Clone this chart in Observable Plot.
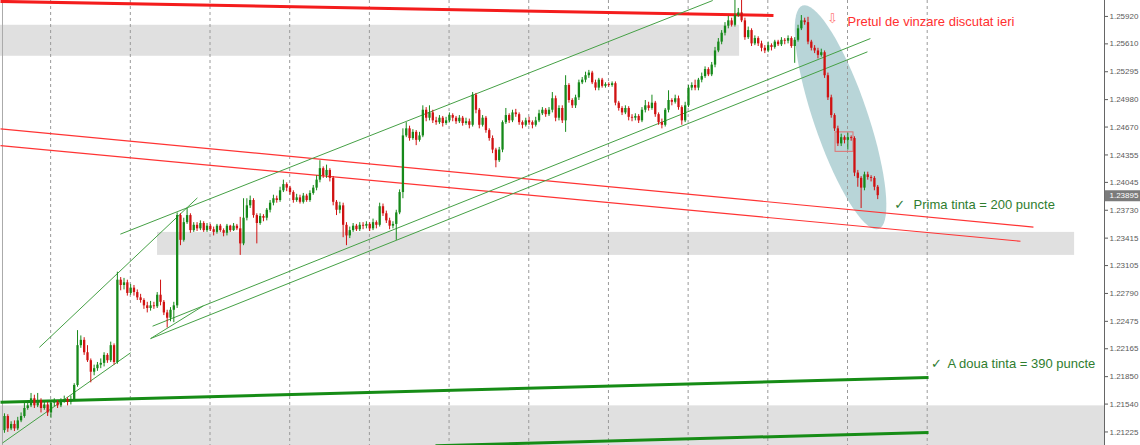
<!DOCTYPE html>
<html><head><meta charset="utf-8">
<script src="https://cdn.jsdelivr.net/npm/d3@7"></script>
<script src="https://cdn.jsdelivr.net/npm/@observablehq/plot@0.6"></script>
<style>body{margin:0;background:#fff;overflow:hidden}</style>
</head><body><div id="chart"></div>
<script>
// ---- data (hourly candles, open = previous close) ----
const firstOpen = 1.2124;
const close = [
1.2140,1.2126,1.2131,1.2126,1.2135,1.2140,1.2149,1.2152,1.2160,1.2152,1.2158,1.2149,
1.2153,1.2144,1.2155,1.2156,1.2152,1.2157,1.2159,1.2156,1.2159,1.2175,1.2220,1.2226,
1.2212,1.2203,1.2190,1.2194,1.2198,1.2200,1.2209,1.2203,1.2220,1.2201,1.2294,1.2288,
1.2291,1.2279,1.2285,1.2280,1.2274,1.2271,1.2265,1.2262,1.2265,1.2264,1.2277,1.2269,
1.2257,1.2251,1.2260,1.2265,1.2367,1.2339,1.2359,1.2367,1.2350,1.2356,1.2352,1.2358,
1.2350,1.2355,1.2351,1.2348,1.2355,1.2350,1.2347,1.2355,1.2350,1.2355,1.2352,1.2335,
1.2364,1.2378,1.2384,1.2367,1.2358,1.2366,1.2364,1.2373,1.2381,1.2386,1.2384,1.2395,
1.2402,1.2398,1.2393,1.2384,1.2387,1.2382,1.2389,1.2384,1.2392,1.2398,1.2407,1.2420,
1.2412,1.2418,1.2409,1.2382,1.2373,1.2378,1.2356,1.2344,1.2350,1.2355,1.2351,1.2356,
1.2355,1.2357,1.2352,1.2359,1.2356,1.2377,1.2369,1.2361,1.2355,1.2357,1.2370,1.2393,
1.2457,1.2465,1.2454,1.2461,1.2452,1.2457,1.2486,1.2477,1.2483,1.2474,1.2472,1.2477,
1.2471,1.2474,1.2480,1.2477,1.2473,1.2477,1.2471,1.2473,1.2469,1.2503,1.2486,1.2469,
1.2477,1.2463,1.2454,1.2441,1.2429,1.2441,1.2472,1.2480,1.2474,1.2483,1.2481,1.2472,
1.2469,1.2474,1.2472,1.2469,1.2474,1.2482,1.2486,1.2481,1.2486,1.2499,1.2477,1.2488,
1.2474,1.2514,1.2497,1.2491,1.2500,1.2517,1.2520,1.2525,1.2528,1.2517,1.2511,1.2520,
1.2513,1.2515,1.2514,1.2516,1.2494,1.2488,1.2483,1.2488,1.2478,1.2477,1.2479,1.2474,
1.2486,1.2491,1.2488,1.2494,1.2481,1.2472,1.2469,1.2486,1.2497,1.2495,1.2499,1.2489,
1.2474,1.2491,1.2511,1.2514,1.2511,1.2520,1.2524,1.2532,1.2526,1.2537,1.2553,1.2563,
1.2573,1.2581,1.2587,1.2582,1.2593,1.2596,1.2587,1.2568,1.2576,1.2561,1.2567,1.2561,
1.2556,1.2553,1.2559,1.2557,1.2563,1.2560,1.2565,1.2564,1.2567,1.2558,1.2565,1.2578,
1.2587,1.2585,1.2563,1.2556,1.2553,1.2548,1.2551,1.2525,1.2500,1.2480,1.2465,1.2448,
1.2455,1.2452,1.2455,1.2454,1.2415,1.2409,1.2398,1.2413,1.2410,1.2409,1.2399,1.23895];
const high = [
1.2143,1.2142,1.2134,1.2135,1.2139,1.2144,1.2155,1.2157,1.2166,1.2164,1.2166,1.2160,
1.2157,1.2156,1.2158,1.2160,1.2158,1.2160,1.2163,1.2161,1.2163,1.2177,1.2237,1.2231,
1.2229,1.2220,1.2205,1.2198,1.2201,1.2205,1.2212,1.2211,1.2224,1.2222,1.2303,1.2297,
1.2296,1.2294,1.2289,1.2288,1.2283,1.2278,1.2273,1.2269,1.2270,1.2269,1.2280,1.2294,
1.2271,1.2260,1.2263,1.2269,1.2370,1.2369,1.2364,1.2375,1.2369,1.2359,1.2359,1.2361,
1.2360,1.2358,1.2357,1.2354,1.2357,1.2357,1.2352,1.2357,1.2356,1.2358,1.2357,1.2365,
1.2386,1.2386,1.2389,1.2386,1.2369,1.2369,1.2368,1.2375,1.2384,1.2390,1.2389,1.2399,
1.2407,1.2404,1.2400,1.2395,1.2391,1.2390,1.2392,1.2391,1.2395,1.2401,1.2412,1.2429,
1.2422,1.2424,1.2420,1.2411,1.2384,1.2382,1.2381,1.2359,1.2354,1.2358,1.2357,1.2359,
1.2359,1.2360,1.2359,1.2363,1.2361,1.2381,1.2380,1.2372,1.2364,1.2360,1.2373,1.2396,
1.2465,1.2472,1.2468,1.2464,1.2463,1.2461,1.2491,1.2489,1.2491,1.2486,1.2478,1.2480,
1.2479,1.2478,1.2483,1.2482,1.2479,1.2480,1.2479,1.2477,1.2476,1.2506,1.2505,1.2488,
1.2480,1.2479,1.2465,1.2457,1.2443,1.2444,1.2474,1.2488,1.2482,1.2486,1.2487,1.2483,
1.2474,1.2477,1.2478,1.2474,1.2478,1.2486,1.2489,1.2488,1.2489,1.2506,1.2502,1.2491,
1.2491,1.2525,1.2516,1.2499,1.2503,1.2520,1.2523,1.2529,1.2531,1.2530,1.2520,1.2522,
1.2522,1.2517,1.2517,1.2518,1.2518,1.2496,1.2490,1.2491,1.2490,1.2481,1.2482,1.2481,
1.2489,1.2497,1.2495,1.2503,1.2496,1.2483,1.2476,1.2488,1.2508,1.2499,1.2503,1.2502,
1.2491,1.2495,1.2514,1.2517,1.2520,1.2522,1.2528,1.2535,1.2534,1.2540,1.2557,1.2567,
1.2576,1.2585,1.2592,1.2590,1.2610,1.2601,1.2610,1.2590,1.2580,1.2578,1.2570,1.2569,
1.2564,1.2559,1.2563,1.2561,1.2565,1.2565,1.2568,1.2567,1.2570,1.2569,1.2568,1.2582,
1.2593,1.2590,1.2591,1.2565,1.2559,1.2556,1.2555,1.2553,1.2528,1.2503,1.2482,1.2468,
1.2459,1.2457,1.2460,1.2457,1.2456,1.2418,1.2411,1.2416,1.2416,1.2412,1.2411,1.2401];
const low = [
1.2121,1.2122,1.2124,1.2123,1.2124,1.2133,1.2138,1.2147,1.2150,1.2149,1.2150,1.2144,
1.2147,1.2140,1.2138,1.2151,1.2149,1.2150,1.2155,1.2152,1.2153,1.2157,1.2173,1.2217,
1.2209,1.2201,1.2178,1.2186,1.2191,1.2194,1.2196,1.2200,1.2201,1.2198,1.2199,1.2282,
1.2283,1.2276,1.2277,1.2276,1.2271,1.2268,1.2261,1.2257,1.2259,1.2261,1.2262,1.2265,
1.2254,1.2240,1.2247,1.2246,1.2262,1.2333,1.2337,1.2357,1.2347,1.2348,1.2349,1.2350,
1.2348,1.2348,1.2349,1.2344,1.2346,1.2348,1.2343,1.2344,1.2348,1.2349,1.2350,1.2322,
1.2333,1.2361,1.2375,1.2364,1.2335,1.2356,1.2360,1.2361,1.2370,1.2378,1.2381,1.2382,
1.2393,1.2394,1.2390,1.2381,1.2382,1.2380,1.2380,1.2382,1.2382,1.2390,1.2395,1.2404,
1.2409,1.2409,1.2405,1.2378,1.2367,1.2369,1.2342,1.2333,1.2341,1.2348,1.2349,1.2349,
1.2351,1.2352,1.2349,1.2350,1.2352,1.2354,1.2366,1.2358,1.2351,1.2352,1.2339,1.2368,
1.2386,1.2455,1.2451,1.2452,1.2446,1.2450,1.2455,1.2473,1.2474,1.2471,1.2469,1.2470,
1.2467,1.2469,1.2472,1.2473,1.2470,1.2471,1.2468,1.2469,1.2465,1.2467,1.2482,1.2465,
1.2467,1.2460,1.2451,1.2437,1.2421,1.2427,1.2438,1.2470,1.2471,1.2472,1.2478,1.2469,
1.2465,1.2467,1.2469,1.2465,1.2467,1.2472,1.2480,1.2478,1.2479,1.2483,1.2473,1.2474,
1.2471,1.2461,1.2494,1.2488,1.2488,1.2497,1.2515,1.2517,1.2522,1.2515,1.2508,1.2508,
1.2511,1.2511,1.2512,1.2512,1.2491,1.2485,1.2480,1.2481,1.2474,1.2473,1.2474,1.2471,
1.2472,1.2483,1.2485,1.2486,1.2478,1.2469,1.2465,1.2467,1.2483,1.2491,1.2493,1.2486,
1.2469,1.2472,1.2489,1.2508,1.2508,1.2508,1.2517,1.2522,1.2524,1.2524,1.2534,1.2551,
1.2560,1.2570,1.2578,1.2580,1.2580,1.2591,1.2585,1.2565,1.2566,1.2558,1.2559,1.2558,
1.2552,1.2550,1.2551,1.2553,1.2555,1.2558,1.2558,1.2560,1.2561,1.2556,1.2539,1.2563,
1.2576,1.2582,1.2560,1.2553,1.2550,1.2544,1.2546,1.2522,1.2497,1.2477,1.2462,1.2445,
1.2445,1.2448,1.2441,1.2451,1.2411,1.2399,1.2375,1.2395,1.2407,1.2405,1.2395,1.2385];

const daySeparators = [13.9, 37.9, 61.9, 85.9, 109.9, 133.9, 157.9, 181.9, 205.9, 229.9, 253.9, 277.9];
const yTicks = [1.25920,1.25610,1.25295,1.24980,1.24670,1.24355,1.24045,1.23730,1.23415,1.23105,1.22790,1.22475,1.22165,1.21850,1.21540,1.21225];
const lastPrice = 1.23895;

// drawn objects (bar index, price)
const zones = [
  {i1:-1.2, i2:221.4, p1:1.2582, p2:1.2547},
  {i1:46.1, i2:322.3, p1:1.2348, p2:1.2322},
  {i1:-1.2, i2:331.3, p1:1.2152, p2:1.21072}
];
const trendLines = [
  {i1:-1.2, p1:1.2609, i2:231.6, p2:1.2593, kind:"redThick"},
  {i1:-1.2, p1:1.2465, i2:309.9, p2:1.2354, kind:"red"},
  {i1:-1.2, p1:1.2446, i2:306.0, p2:1.2338, kind:"red"},
  {i1:34.9, p1:1.2346, i2:213.3, p2:1.2610, kind:"green"},
  {i1:10.5, p1:1.2218, i2:58.1, p2:1.2387, kind:"green"},
  {i1:44.6, p1:1.2242, i2:260.8, p2:1.2567, kind:"green"},
  {i1:44.0, p1:1.2228, i2:259.9, p2:1.2552, kind:"green"},
  {i1:44.0, p1:1.2228, i2:59.9, p2:1.2265, kind:"green"},
  {i1:-0.6, p1:1.2110, i2:38.0, p2:1.2212, kind:"green"},
  {i1:-1.2, p1:1.2156, i2:278.3, p2:1.2184, kind:"greenThick"},
  {i1:129.8, p1:1.2107, i2:278.3, p2:1.2122, kind:"greenThick"}
];
const lineStyle = {
  redThick:{stroke:"#f41c1c", w:3}, red:{stroke:"#ff3434", w:1.2},
  green:{stroke:"#45a045", w:1}, greenThick:{stroke:"#168c16", w:3}
};
const boxAnno = [{i1:250.3, i2:255.7, p1:1.2461, p2:1.2439}];

// ---- layout ----
const W = 1140, H = 445, MR = 36;
const xDomain = [-1.2, 331.3], yDomain = [1.21072, 1.2610];
const kx = (W - MR) / (xDomain[1] - xDomain[0]);
const ky = H / (yDomain[1] - yDomain[0]);

const candles = close.map((c, i) => {
  const o = i ? close[i - 1] : firstOpen;
  return {i, o, c, h: high[i], l: low[i], up: c >= o};
});

// ellipse highlight: center (bar, price), radii in px, tilt
const ell = {ci: 251.8, cp: 1.2478, a: 118, b: 27, deg: 71.2};
const th = ell.deg * Math.PI / 180;
const ellPts = d3.range(0, 73).map(k => {
  const t = k / 72 * 2 * Math.PI;
  const px = ell.a * Math.cos(t) * Math.cos(th) - ell.b * Math.sin(t) * Math.sin(th);
  const py = ell.a * Math.cos(t) * Math.sin(th) + ell.b * Math.sin(t) * Math.cos(th);
  return {x: ell.ci + px / kx, y: ell.cp - py / ky};
});

const upCol = "#16891a", dnCol = "#d01212";
const font = "'Liberation Sans', Arial, sans-serif";

const chart = Plot.plot({
  width: W, height: H,
  marginLeft: 0, marginRight: MR, marginTop: 0, marginBottom: 0,
  style: {fontFamily: font, fontSize: "8px", color: "#5a5a5a", background: "#fff", overflow: "visible"},
  x: {domain: xDomain, axis: null},
  y: {domain: yDomain, axis: "right", ticks: yTicks, tickFormat: d => d.toFixed(5), tickSize: 3, tickPadding: 2, label: null},
  marks: [
    Plot.rect(zones, {x1:"i1", x2:"i2", y1:"p1", y2:"p2", fill:"#e0e0e0"}),
    Plot.line(ellPts, {x:"x", y:"y", fill:"#b8d5d8", stroke:"none", curve:"linear-closed"}),
    Plot.ruleX(daySeparators, {stroke:"#9a9a9a", strokeDasharray:"3,3", strokeWidth:1}),
    Plot.ruleX([xDomain[0] + 0.6], {stroke:"#aaa"}),
    Plot.ruleX([xDomain[1]], {stroke:"#666"}),
    Plot.link(trendLines, {x1:"i1", y1:"p1", x2:"i2", y2:"p2",
      stroke: d => lineStyle[d.kind].stroke, strokeWidth: d => lineStyle[d.kind].w}),
    Plot.rect(boxAnno, {x1:"i1", x2:"i2", y1:"p1", y2:"p2", fill:"none", stroke:"#e07070", strokeWidth:1}),
    Plot.ruleX(candles, {x:"i", y1:"l", y2:"h", stroke: d => d.up ? upCol : dnCol, strokeWidth:1}),
    Plot.ruleX(candles, {x:"i", y1:"o", y2:"c", stroke: d => d.up ? upCol : dnCol, strokeWidth:2.3}),
    Plot.text([{x:249.4, y:1.2589}], {x:"x", y:"y", text: () => "⇩", fill:"#ff7a7a", fontSize:13, fontFamily:"DejaVu Sans"}),
    Plot.text([{x:253.9, y:1.2586}], {x:"x", y:"y", text: () => "Pretul de vinzare discutat ieri", fill:"#ff3030", fontSize:13, textAnchor:"start"}),
    Plot.text([{x:269.6, y:1.2379}], {x:"x", y:"y", text: () => "✓", fill:"#2f7d2f", fontSize:13, fontFamily:"DejaVu Sans"}),
    Plot.text([{x:273.8, y:1.2379}], {x:"x", y:"y", text: () => "Prima tinta = 200 puncte", fill:"#2f7d2f", fontSize:13, textAnchor:"start"}),
    Plot.text([{x:280.7, y:1.2199}], {x:"x", y:"y", text: () => "✓", fill:"#2f7d2f", fontSize:13, fontFamily:"DejaVu Sans"}),
    Plot.text([{x:284.0, y:1.2199}], {x:"x", y:"y", text: () => "A doua tinta = 390 puncte", fill:"#2f7d2f", fontSize:13, textAnchor:"start"}),
    Plot.ruleY([lastPrice], {x1: xDomain[1] + 0.2, x2: xDomain[1] + MR / kx, stroke:"#7b7b7b", strokeWidth:11}),
    Plot.text([lastPrice], {x: xDomain[1] + 1.5, y: d => d, text: d => d.toFixed(5), fill:"#fff", fontSize:8, textAnchor:"start"})
  ]
});
document.getElementById("chart").appendChild(chart);
</script>
</body></html>
